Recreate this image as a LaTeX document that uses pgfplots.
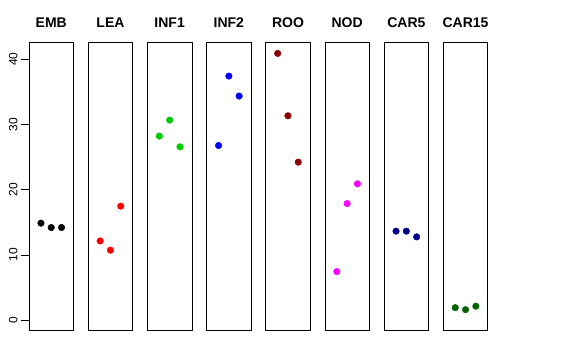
\documentclass[border=0pt]{standalone}
\usepackage{fontspec}
\setmainfont{Liberation Sans}
\usepackage{pgfplots}
\pgfplotsset{compat=1.18}
\definecolor{green3}{RGB}{0,205,0}
\definecolor{rdark}{RGB}{139,0,0}
\definecolor{bdark}{RGB}{0,0,139}
\definecolor{gdark}{RGB}{0,100,0}
\definecolor{magR}{RGB}{255,0,255}
\definecolor{redR}{RGB}{255,0,0}
\definecolor{blueR}{RGB}{0,0,255}
\pgfplotsset{
  panel/.style={scale only axis, width=44.5pt, height=288pt, anchor=south west,
    xmin=-0.16, xmax=4.16, ymin=-1.6, ymax=42.5, xtick=\empty, ytick=\empty,
    axis line style={line width=0.8pt},
    title style={font=\bfseries\fontsize{14}{16}\selectfont, at={(0.5,1)}, anchor=base, yshift=9pt},
    clip=false},
  pts/.style={only marks, mark=*, mark size=3.3pt, #1, mark options={draw=#1, fill=#1}}
}
\begin{document}
\begin{tikzpicture}
\path[use as bounding box] (0,0) rectangle (576pt,360pt);
\begin{axis}[panel, at={(29pt,29.3pt)}, title={EMB},
  ytick={0,10,20,30,40}, ytick pos=left, tick align=outside, major tick length=8pt,
  tick style={line width=0.8pt, black},
  yticklabel style={rotate=90, anchor=south, font=\fontsize{12}{12}\selectfont},
  /pgf/number format/assume math mode=true]
\addplot[pts=black] coordinates {(1,14.87) (2,14.2) (3,14.2)};
\end{axis}
\begin{axis}[panel, at={(88.2pt,29.3pt)}, title={LEA}]
\addplot[pts=redR] coordinates {(1,12.15) (2,10.73) (3,17.47)};
\end{axis}
\begin{axis}[panel, at={(147.4pt,29.3pt)}, title={INF1}]
\addplot[pts=green3] coordinates {(1,28.2) (2,30.65) (3,26.56)};
\end{axis}
\begin{axis}[panel, at={(206.6pt,29.3pt)}, title={INF2}]
\addplot[pts=blueR] coordinates {(1,26.76) (2,37.39) (3,34.33)};
\end{axis}
\begin{axis}[panel, at={(265.7pt,29.3pt)}, title={ROO}]
\addplot[pts=rdark] coordinates {(1,40.86) (2,31.31) (3,24.21)};
\end{axis}
\begin{axis}[panel, at={(324.9pt,29.3pt)}, title={NOD}]
\addplot[pts=magR] coordinates {(1,7.45) (2,17.87) (3,20.89)};
\end{axis}
\begin{axis}[panel, at={(384.1pt,29.3pt)}, title={CAR5}]
\addplot[pts=bdark] coordinates {(1,13.64) (2,13.64) (3,12.77)};
\end{axis}
\begin{axis}[panel, at={(443.3pt,29.3pt)}, title={CAR15}]
\addplot[pts=gdark] coordinates {(1,1.93) (2,1.62) (3,2.15)};
\end{axis}
\end{tikzpicture}
\end{document}
